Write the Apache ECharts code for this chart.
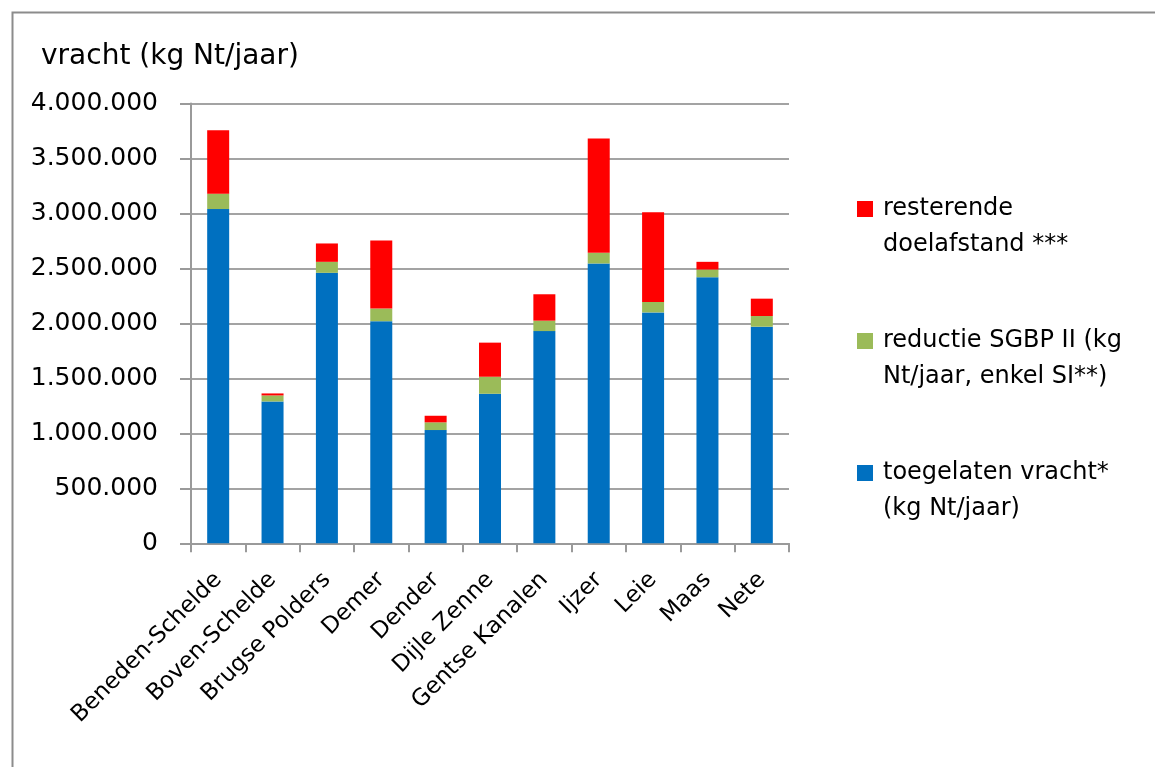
<!DOCTYPE html>
<html>
<head>
<meta charset="utf-8">
<script src="https://cdn.jsdelivr.net/npm/echarts@6/dist/echarts.min.js"></script>
<style>
  html, body { margin: 0; padding: 0; background: #fff; }
  #chart { width: 1155px; height: 767px; }
</style>
</head>
<body>
<div id="chart"></div>
<script>
// Stroomgebieden (river basins)
const categories = ['Beneden-Schelde', 'Boven-Schelde', 'Brugse Polders', 'Demer', 'Dender',
  'Dijle Zenne', 'Gentse Kanalen', 'Ijzer', 'Leie', 'Maas', 'Nete'];

// toegelaten vracht* (kg Nt/jaar)
const toegelaten = [3040000, 1290000, 2460000, 2020000, 1030000, 1360000, 1930000, 2545000, 2100000, 2420000, 1970000];
// reductie SGBP II (kg Nt/jaar, enkel SI**)
const reductie = [140000, 55000, 100000, 115000, 70000, 155000, 95000, 97000, 95000, 70000, 97000];
// resterende doelafstand ***
const resterend = [577000, 18000, 167000, 620000, 60000, 310000, 240000, 1040000, 815000, 70000, 158000];

const seriesNames = [
  'toegelaten vracht*\n(kg Nt/jaar)',
  'reductie SGBP II (kg\nNt/jaar, enkel SI**)',
  'resterende\ndoelafstand ***'
];

const FONT = 'DejaVu Sans';
const chart = echarts.init(document.getElementById('chart'));

function dotThousands(v) {
  return String(v).replace(/\B(?=(\d{3})+(?!\d))/g, '.');
}

// Legend marker: a square sitting level with the first line of a two-line label,
// with a little extra room before the text
const legendIcon = 'path://M0,0L16,0L16,16L0,16Z M21,52L21.01,52';

chart.setOption({
  animation: false,
  textStyle: { fontFamily: FONT },
  graphic: [
    {
      type: 'rect', left: 10, top: 10, silent: true,
      shape: { width: 1300, height: 900 },
      style: { fill: 'none', stroke: '#8c8c8c', lineWidth: 2 }
    },
    {
      type: 'text', left: 41, top: 43,
      style: { text: 'vracht (kg Nt/jaar)', font: '28px "DejaVu Sans"', fill: '#000' }
    }
  ],
  grid: { left: 191, right: 366, top: 103.5, bottom: 223.7 },
  legend: {
    orient: 'vertical',
    left: 852, top: 186,
    itemWidth: 21, itemHeight: 52,
    itemGap: 60,
    icon: legendIcon,
    data: [seriesNames[2], seriesNames[1], seriesNames[0]],
    textStyle: { fontFamily: FONT, fontSize: 24, color: '#000', lineHeight: 36 }
  },
  xAxis: {
    type: 'category',
    data: categories,
    axisLine: { lineStyle: { color: '#9a9a9a', width: 2 } },
    axisTick: { show: true, length: 9, lineStyle: { color: '#9a9a9a', width: 2 } },
    axisLabel: { rotate: 45, fontSize: 23, color: '#000', margin: 33, fontFamily: FONT }
  },
  yAxis: {
    type: 'value',
    min: 0, max: 4000000, interval: 500000,
    axisLine: { show: true, lineStyle: { color: '#9a9a9a', width: 2 } },
    axisTick: { show: true, length: 11, lineStyle: { color: '#9a9a9a', width: 2 } },
    splitLine: { lineStyle: { color: '#a3a3a3', width: 2 } },
    axisLabel: { fontSize: 25, color: '#000', margin: 33, fontFamily: FONT, formatter: dotThousands }
  },
  series: [
    { name: seriesNames[0], type: 'bar', stack: 'v', data: toegelaten, barWidth: 22,
      itemStyle: { color: '#0070C0' } },
    { name: seriesNames[1], type: 'bar', stack: 'v', data: reductie, barWidth: 22,
      itemStyle: { color: '#9BBB59' } },
    { name: seriesNames[2], type: 'bar', stack: 'v', data: resterend, barWidth: 22,
      itemStyle: { color: '#FF0000' } }
  ]
});
</script>
</body>
</html>
